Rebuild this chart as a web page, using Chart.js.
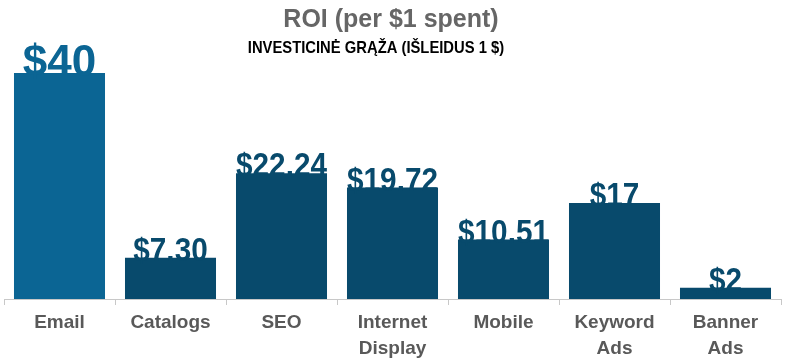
<!DOCTYPE html>
<html>
<head>
<meta charset="utf-8">
<script src="https://cdn.jsdelivr.net/npm/chart.js@4"></script>
<style>
  body { margin: 0; background: #fff; }
  #wrap { width: 786px; height: 361px; }
</style>
</head>
<body>
<div id="wrap"><canvas id="roi"></canvas></div>
<script>
const categories = [['Email'], ['Catalogs'], ['SEO'], ['Internet', 'Display'], ['Mobile'], ['Keyword', 'Ads'], ['Banner', 'Ads']];
const roiValues = [40, 7.30, 22.24, 19.72, 10.51, 17, 2];
const valueLabels = ['$40', '$7.30', '$22.24', '$19.72', '$10.51', '$17', '$2'];
const barColors = ['#0b6594', '#084a6c', '#084a6c', '#084a6c', '#084a6c', '#084a6c', '#084a6c'];
const titleText = 'ROI (per $1 spent)';
const subtitleText = 'INVESTICINĖ GRĄŽA (IŠLEIDUS 1 $)';

const FONT = '"Liberation Sans", Arial, sans-serif';

// squeezed text helper (no narrow font installed)
function drawSqueezed(ctx, text, x, y, sx) {
  ctx.save();
  ctx.translate(x, y);
  ctx.scale(sx, 1);
  ctx.fillText(text, 0, 0);
  ctx.restore();
}

// title, subtitle and the big $ labels on top of each bar
const labelsPlugin = {
  id: 'roiLabels',
  afterDatasetsDraw(chart) {
    const ctx = chart.ctx;
    const meta = chart.getDatasetMeta(0);
    ctx.save();
    ctx.textAlign = 'center';
    ctx.textBaseline = 'alphabetic';

    ctx.fillStyle = '#666666';
    ctx.font = 'bold 25px ' + FONT;
    ctx.fillText(titleText, 391, 27);

    ctx.fillStyle = '#000000';
    ctx.font = 'bold 17px ' + FONT;
    drawSqueezed(ctx, subtitleText, 376, 53, 0.87);

    meta.data.forEach((bar, i) => {
      const big = i === 0;
      ctx.font = 'bold ' + (big ? 44 : 33) + 'px ' + FONT;
      ctx.fillStyle = barColors[i];
      drawSqueezed(ctx, valueLabels[i], bar.x, bar.y + 3, big ? 1 : 0.9);
    });
    ctx.restore();
  }
};

new Chart(document.getElementById('roi'), {
  type: 'bar',
  data: {
    labels: categories,
    datasets: [{ data: roiValues, backgroundColor: barColors, categoryPercentage: 1, barPercentage: 0.82 }]
  },
  options: {
    responsive: true,
    maintainAspectRatio: false,
    animation: false,
    layout: { padding: { left: 4, right: 5, top: 73, bottom: 0 } },
    plugins: {
      legend: { display: false },
      tooltip: { enabled: false }
    },
    scales: {
      y: { display: false, min: 0, max: 40 },
      x: {
        afterFit(scale) { scale.height = 62; },
        border: { display: true, color: '#c8c8c8', width: 1 },
        grid: { display: true, drawOnChartArea: false, drawTicks: true, tickLength: 6, color: '#c8c8c8', offset: true },
        ticks: {
          color: '#595959',
          font: { family: FONT, size: 19, weight: 'bold', lineHeight: 1.35 },
          padding: 5,
          maxRotation: 0
        }
      }
    }
  },
  plugins: [labelsPlugin]
});
</script>
</body>
</html>
